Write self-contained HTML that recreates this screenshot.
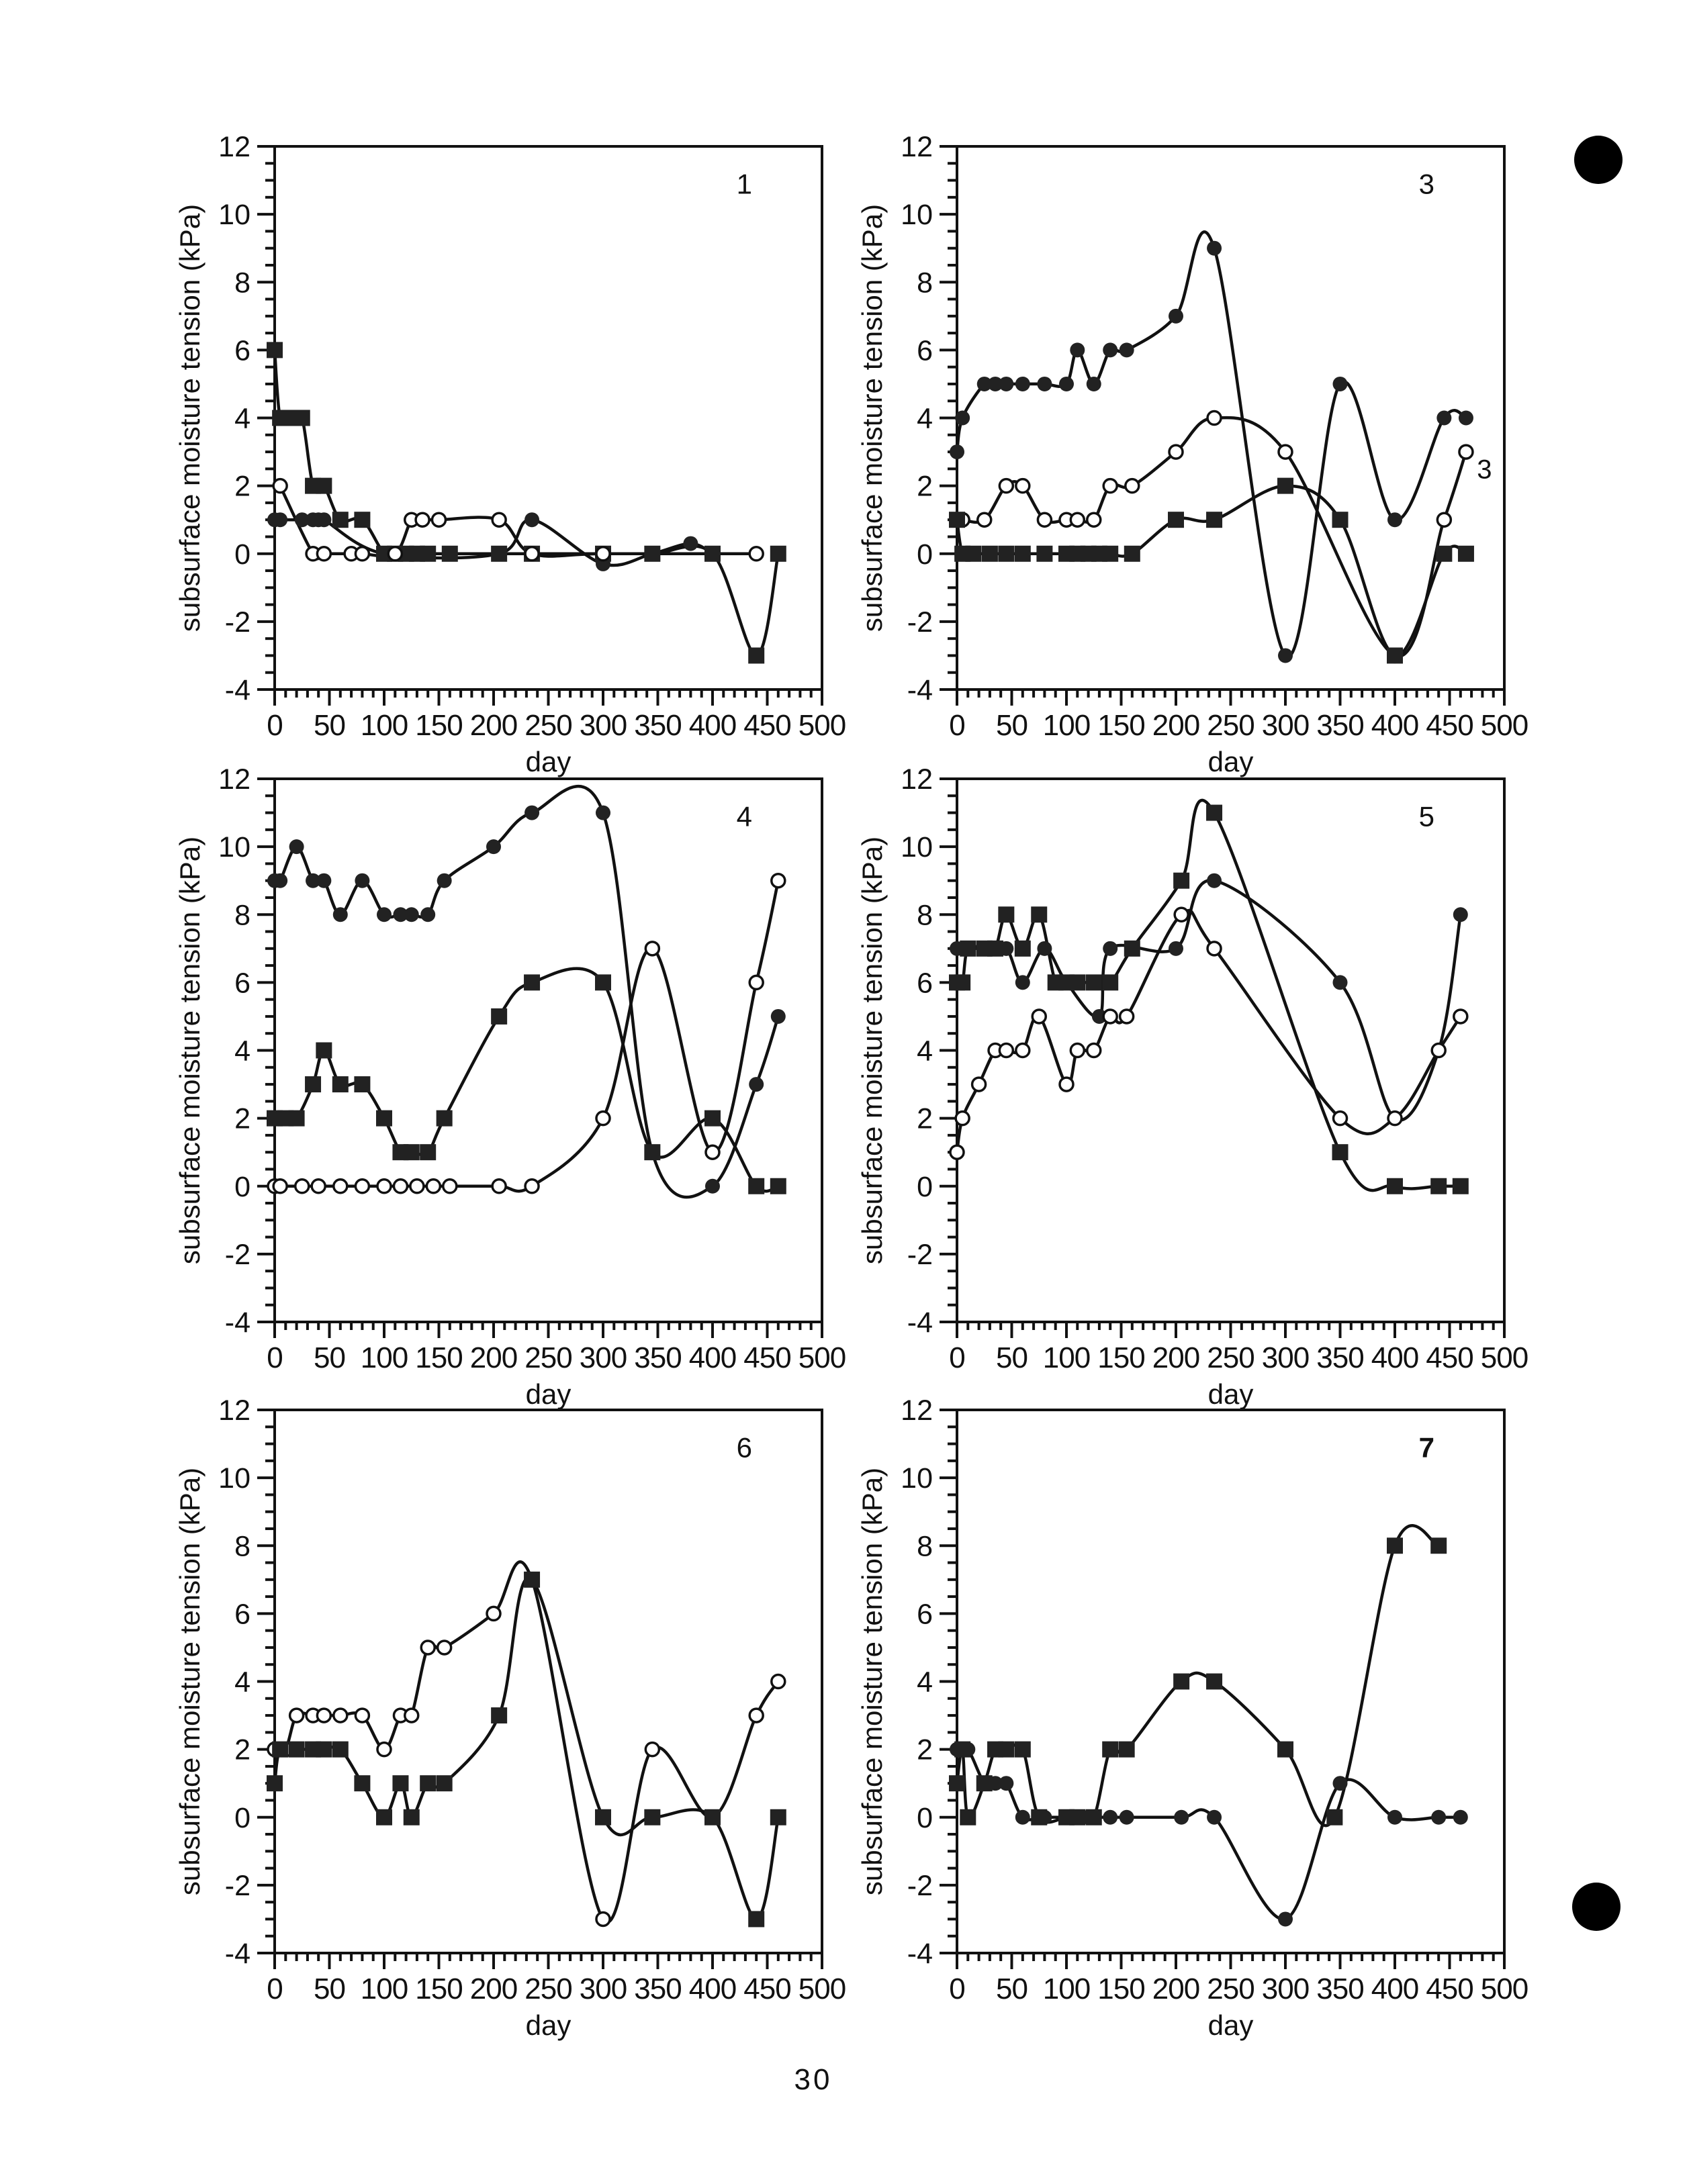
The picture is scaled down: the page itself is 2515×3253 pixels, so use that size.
<!DOCTYPE html>
<html><head><meta charset="utf-8">
<style>
html,body{margin:0;padding:0;background:#fff;}
svg{display:block;}
text{font-family:"Liberation Sans",sans-serif;fill:#111;}
</style></head>
<body>
<svg id="s" width="2515" height="3253" xmlns="http://www.w3.org/2000/svg"></svg>
<script>
const svg=document.getElementById('s');
let out='';
const W=815,H=809;
const panels=[
 {x:409,y:218,lab:'1',bold:false,series:[
  {m:'sq',p:[[0,6],[5,4],[15,4],[25,4],[35,2],[45,2],[60,1],[80,1],[100,0],[110,0],[120,0],[130,0],[140,0],[160,0],[205,0],[235,0],[300,0],[345,0],[400,0],[440,-3],[460,0]]},
  {m:'fc',p:[[0,1],[5,1],[25,1],[35,1],[40,1],[45,1],[100,0],[205,0],[235,1],[300,-0.3],[345,0],[380,0.3],[400,0]]},
  {m:'oc',p:[[5,2],[35,0],[45,0],[70,0],[80,0],[110,0],[125,1],[135,1],[150,1],[205,1],[235,0],[300,0],[440,0]]}
 ]},
 {x:1425,y:218,lab:'3',bold:false,extra:true,series:[
  {m:'fc',p:[[0,3],[5,4],[25,5],[35,5],[45,5],[60,5],[80,5],[100,5],[110,6],[125,5],[140,6],[155,6],[200,7],[235,9],[300,-3],[350,5],[400,1],[445,4],[465,4]]},
  {m:'oc',p:[[0,1],[5,1],[25,1],[45,2],[60,2],[80,1],[100,1],[110,1],[125,1],[140,2],[160,2],[200,3],[235,4],[300,3],[400,-3],[445,1],[465,3]]},
  {m:'sq',p:[[0,1],[5,0],[15,0],[30,0],[45,0],[60,0],[80,0],[100,0],[110,0],[120,0],[130,0],[140,0],[160,0],[200,1],[235,1],[300,2],[350,1],[400,-3],[445,0],[465,0]]}
 ]},
 {x:409,y:1160,lab:'4',bold:false,series:[
  {m:'fc',p:[[0,9],[5,9],[20,10],[35,9],[45,9],[60,8],[80,9],[100,8],[115,8],[125,8],[140,8],[155,9],[200,10],[235,11],[300,11],[345,1],[400,0],[440,3],[460,5]]},
  {m:'sq',p:[[0,2],[10,2],[20,2],[35,3],[45,4],[60,3],[80,3],[100,2],[115,1],[125,1],[140,1],[155,2],[205,5],[235,6],[300,6],[345,1],[400,2],[440,0],[460,0]]},
  {m:'oc',p:[[0,0],[5,0],[25,0],[40,0],[60,0],[80,0],[100,0],[115,0],[130,0],[145,0],[160,0],[205,0],[235,0],[300,2],[345,7],[400,1],[440,6],[460,9]]}
 ]},
 {x:1425,y:1160,lab:'5',bold:false,series:[
  {m:'sq',p:[[0,6],[5,6],[10,7],[25,7],[35,7],[45,8],[60,7],[75,8],[90,6],[100,6],[110,6],[125,6],[140,6],[160,7],[205,9],[235,11],[350,1],[400,0],[440,0],[460,0]]},
  {m:'fc',p:[[0,7],[5,7],[25,7],[45,7],[60,6],[80,7],[100,6],[130,5],[140,7],[200,7],[235,9],[350,6],[400,2],[440,4],[460,8]]},
  {m:'oc',p:[[0,1],[5,2],[20,3],[35,4],[45,4],[60,4],[75,5],[100,3],[110,4],[125,4],[140,5],[155,5],[205,8],[235,7],[350,2],[400,2],[440,4],[460,5]]}
 ]},
 {x:409,y:2100,lab:'6',bold:false,series:[
  {m:'oc',p:[[0,2],[10,2],[20,3],[35,3],[45,3],[60,3],[80,3],[100,2],[115,3],[125,3],[140,5],[155,5],[200,6],[235,7],[300,-3],[345,2],[400,0],[440,3],[460,4]]},
  {m:'sq',p:[[0,1],[5,2],[20,2],[35,2],[45,2],[60,2],[80,1],[100,0],[115,1],[125,0],[140,1],[155,1],[205,3],[235,7],[300,0],[345,0],[400,0],[440,-3],[460,0]]}
 ]},
 {x:1425,y:2100,lab:'7',bold:true,series:[
  {m:'sq',p:[[0,1],[5,2],[10,0],[25,1],[35,2],[45,2],[60,2],[75,0],[100,0],[110,0],[125,0],[140,2],[155,2],[205,4],[235,4],[300,2],[345,0],[400,8],[440,8]]},
  {m:'fc',p:[[0,2],[10,2],[25,1],[35,1],[45,1],[60,0],[80,0],[100,0],[120,0],[140,0],[155,0],[205,0],[235,0],[300,-3],[350,1],[400,0],[440,0],[460,0]]}
 ]}
];
function path(pts){
  let d='M'+pts[0][0].toFixed(1)+','+pts[0][1].toFixed(1);
  for(let i=0;i<pts.length-1;i++){
    const p0=pts[Math.max(0,i-1)],p1=pts[i],p2=pts[i+1],p3=pts[Math.min(pts.length-1,i+2)];
    const t=0.5/3;
    const c1=[p1[0]+(p2[0]-p0[0])*t,p1[1]+(p2[1]-p0[1])*t];
    const c2=[p2[0]-(p3[0]-p1[0])*t,p2[1]-(p3[1]-p1[1])*t];
    d+=` C${c1[0].toFixed(1)},${c1[1].toFixed(1)} ${c2[0].toFixed(1)},${c2[1].toFixed(1)} ${p2[0].toFixed(1)},${p2[1].toFixed(1)}`;
  }
  return d;
}
panels.forEach(P=>{
  const X=d=>P.x+d/500*W, Y=v=>P.y+(12-v)/16*H;
  out+=`<rect x="${P.x}" y="${P.y}" width="${W}" height="${H}" fill="none" stroke="#111" stroke-width="4"/>`;
  for(let v=-4;v<=12;v+=0.5){
    const y=Y(v), maj=Number.isInteger(v)&&v%2==0;
    out+=`<line x1="${P.x-(maj?26:14)}" y1="${y}" x2="${P.x}" y2="${y}" stroke="#111" stroke-width="4"/>`;
    if(maj) out+=`<text x="${P.x-36}" y="${y+15}" font-size="43" text-anchor="end">${v}</text>`;
  }
  for(let d=0;d<=500;d+=10){
    const x=X(d), maj=d%50==0;
    out+=`<line x1="${x}" y1="${P.y+H}" x2="${x}" y2="${P.y+H+(maj?24:12)}" stroke="#111" stroke-width="4"/>`;
    if(maj) out+=`<text x="${x}" y="${P.y+H+68}" font-size="44" text-anchor="middle" letter-spacing="-1">${d}</text>`;
  }
  out+=`<text x="${P.x+W/2}" y="${P.y+H+122}" font-size="42" text-anchor="middle">day</text>`;
  const lx=P.x-112, ly=P.y+H/2;
  out+=`<text transform="translate(${lx},${ly}) rotate(-90)" font-size="42" text-anchor="middle">subsurface moisture tension (kPa)</text>`;
  out+=`<text x="${X(429)}" y="${Y(10.9)+15}" font-size="42" text-anchor="middle" ${P.bold?'font-weight="bold"':''}>${P.lab}</text>`;
  if(P.extra) out+=`<text x="${X(475)}" y="${Y(2.5)+14}" font-size="40">3</text>`;
  P.series.forEach(S=>{
    const pts=S.p.map(q=>[X(q[0]),Y(q[1])]);
    out+=`<path d="${path(pts)}" fill="none" stroke="#111" stroke-width="4.5" stroke-linejoin="round"/>`;
  });
  P.series.forEach(S=>{
    S.p.forEach(q=>{
      const x=X(q[0]),y=Y(q[1]);
      if(S.m=='sq') out+=`<rect x="${x-12}" y="${y-12}" width="24" height="24" fill="#222"/>`;
      else if(S.m=='fc') out+=`<circle cx="${x}" cy="${y}" r="11" fill="#222"/>`;
      else out+=`<circle cx="${x}" cy="${y}" r="10" fill="#fff" stroke="#111" stroke-width="3.5"/>`;
    });
  });
});
out+=`<circle cx="2380" cy="238" r="36" fill="#000"/>`;
out+=`<circle cx="2377" cy="2840" r="36" fill="#000"/>`;
out+=`<text x="1211" y="3112" font-size="44" text-anchor="middle" letter-spacing="4">30</text>`;
svg.innerHTML=out;
</script>
</body></html>
